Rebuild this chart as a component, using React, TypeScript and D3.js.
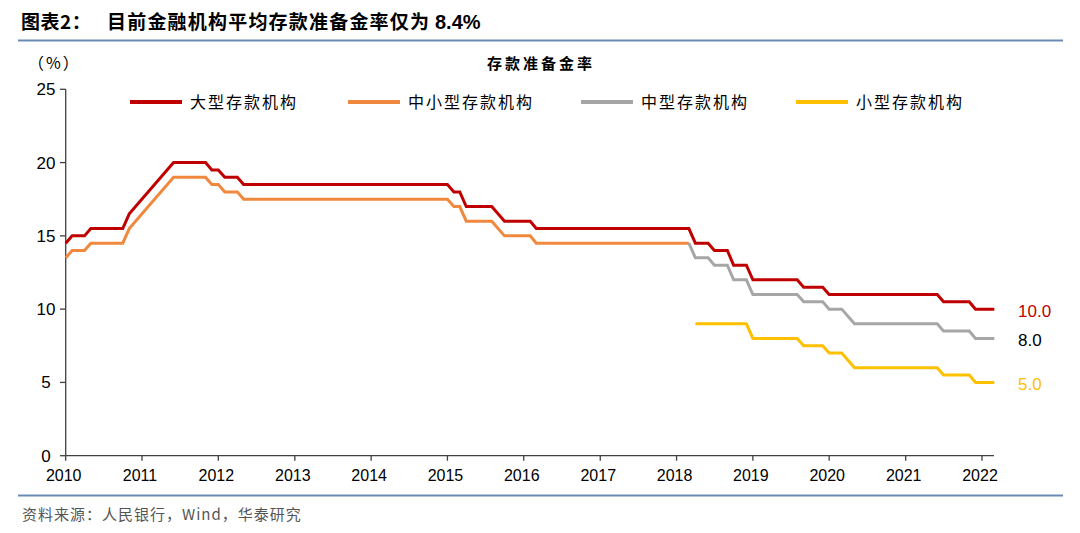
import React from "react";
import * as d3 from "d3";

// Data: vertices of each series (month, value %)
const largeInst: [string, number][] = [
  ["2010-01", 14.5], ["2010-02", 15], ["2010-04", 15], ["2010-05", 15.5], ["2010-10", 15.5],
  ["2010-11", 16.5], ["2011-06", 20], ["2011-11", 20], ["2011-12", 19.5], ["2012-01", 19.5],
  ["2012-02", 19], ["2012-04", 19], ["2012-05", 18.5], ["2015-01", 18.5], ["2015-02", 18],
  ["2015-03", 18], ["2015-04", 17], ["2015-08", 17], ["2015-10", 16], ["2016-02", 16],
  ["2016-03", 15.5], ["2018-03", 15.5], ["2018-04", 14.5], ["2018-06", 14.5], ["2018-07", 14],
  ["2018-09", 14], ["2018-10", 13], ["2018-12", 13], ["2019-01", 12], ["2019-08", 12],
  ["2019-09", 11.5], ["2019-12", 11.5], ["2020-01", 11], ["2021-06", 11], ["2021-07", 10.5],
  ["2021-11", 10.5], ["2021-12", 10], ["2022-03", 10],
];
const midSmallInst: [string, number][] = [
  ["2010-01", 13.5], ["2010-02", 14], ["2010-04", 14], ["2010-05", 14.5], ["2010-10", 14.5],
  ["2010-11", 15.5], ["2011-06", 19], ["2011-11", 19], ["2011-12", 18.5], ["2012-01", 18.5],
  ["2012-02", 18], ["2012-04", 18], ["2012-05", 17.5], ["2015-01", 17.5], ["2015-02", 17],
  ["2015-03", 17], ["2015-04", 16], ["2015-08", 16], ["2015-10", 15], ["2016-02", 15],
  ["2016-03", 14.5], ["2018-03", 14.5],
];
const midInst: [string, number][] = [
  ["2018-03", 14.5], ["2018-04", 13.5], ["2018-06", 13.5], ["2018-07", 13], ["2018-09", 13],
  ["2018-10", 12], ["2018-12", 12], ["2019-01", 11], ["2019-08", 11], ["2019-09", 10.5],
  ["2019-12", 10.5], ["2020-01", 10], ["2020-03", 10], ["2020-05", 9], ["2021-06", 9],
  ["2021-07", 8.5], ["2021-11", 8.5], ["2021-12", 8], ["2022-03", 8],
];
const smallInst: [string, number][] = [
  ["2018-04", 9], ["2018-12", 9], ["2019-01", 8], ["2019-08", 8], ["2019-09", 7.5],
  ["2019-12", 7.5], ["2020-01", 7], ["2020-03", 7], ["2020-05", 6], ["2021-06", 6],
  ["2021-07", 5.5], ["2021-11", 5.5], ["2021-12", 5], ["2022-03", 5],
];

const seriesNames = ["大型存款机构", "中小型存款机构", "中型存款机构", "小型存款机构"];
const seriesColors = ["#C00000", "#F0883E", "#A6A6A6", "#FFC000"];
const endLabels = ["10.0", "", "8.0", "5.0"];
const endLabelColors = ["#C00000", "", "#000000", "#FFC000"];
const yTicks = [0, 5, 10, 15, 20, 25];
const xTickYears = [2010, 2011, 2012, 2013, 2014, 2015, 2016, 2017, 2018, 2019, 2020, 2021, 2022];

const titleHead = "图表2：";
const titleBody = "目前金融机构平均存款准备金率仅为";
const titleNum = "8.4%";
const chartTitle = "存款准备金率";
const unitLabel = "（%）";
const sourceText = "资料来源：人民银行，Wind，华泰研究";

const parse = d3.timeParse("%Y-%m");

export default function App() {
  const W = 1080, H = 533;
  const x = d3.scaleTime()
    .domain([new Date(2010, 0, 1), new Date(2022, 0, 1)])
    .range([65.7, 982]);
  const y = d3.scaleLinear().domain([0, 25]).range([455.7, 89.3]);
  const line = d3.line<[string, number]>()
    .x((d) => x(parse(d[0]) as Date))
    .y((d) => y(d[1]));
  const all = [largeInst, midSmallInst, midInst, smallInst];
  const cjk = "'Noto Sans CJK SC', 'Noto Sans', sans-serif";
  const latin = "'Liberation Sans', Arial, sans-serif";
  const legendX = [130, 348, 581, 796];

  return (
    <svg width={W} height={H} style={{ position: "absolute", left: 0, top: 0, background: "#fff" }}>
      <rect x={0} y={0} width={W} height={H} fill="#fff" />
      {/* Title */}
      <text x={21} y={29} fontFamily={cjk} fontWeight="bold" fontSize={19} fill="#000" letterSpacing={0.5}>
        {titleHead}
      </text>
      <text x={107} y={29} fontFamily={cjk} fontWeight="bold" fontSize={19} fill="#000" letterSpacing={1.2}>
        {titleBody}
      </text>
      <text x={435} y={29} fontFamily={latin} fontWeight="bold" fontSize={20} fill="#000">
        {titleNum}
      </text>
      <line x1={18} x2={1063} y1={40.5} y2={40.5} stroke="#6A8BB3" strokeWidth={2} />
      <text x={28} y={69} fontFamily={cjk} fontSize={16} fill="#000" letterSpacing={2}>{unitLabel}</text>
      <text x={541} y={69} textAnchor="middle" fontFamily={cjk} fontWeight="bold" fontSize={15} fill="#000" letterSpacing={3}>
        {chartTitle}
      </text>

      {/* Y axis */}
      <line x1={65.7} x2={65.7} y1={y(25)} y2={y(0)} stroke="#404040" strokeWidth={1.3} />
      {yTicks.map((t) => (
        <g key={t}>
          <line x1={60} x2={65.7} y1={y(t)} y2={y(t)} stroke="#404040" strokeWidth={1.3} />
          <text x={46} y={y(t) + 6} textAnchor="middle" fontFamily={latin} fontSize={17} fill="#000">{t}</text>
        </g>
      ))}
      {/* X axis */}
      <line x1={65.7} x2={994} y1={y(0)} y2={y(0)} stroke="#404040" strokeWidth={1.3} />
      {xTickYears.map((yr) => (
        <g key={yr}>
          <line x1={x(new Date(yr, 0, 1))} x2={x(new Date(yr, 0, 1))} y1={y(0)} y2={y(0) + 5} stroke="#404040" strokeWidth={1.3} />
          <text x={x(new Date(yr, 0, 1)) - 2} y={481} textAnchor="middle" fontFamily={latin} fontSize={16} fill="#000">{yr}</text>
        </g>
      ))}

      {/* Lines */}
      {all.map((s, i) => (
        <path key={i} d={line(s) || ""} fill="none" stroke={seriesColors[i]} strokeWidth={3} strokeLinejoin="miter" />
      ))}

      {/* End labels */}
      {all.map((s, i) =>
        endLabels[i] ? (
          <text key={"e" + i} x={1018} y={y(s[s.length - 1][1]) + 8} fontFamily={latin} fontSize={17} fill={endLabelColors[i]}>
            {endLabels[i]}
          </text>
        ) : null
      )}

      {/* Legend */}
      {seriesNames.map((n, i) => (
        <g key={n}>
          <line x1={legendX[i]} x2={legendX[i] + 52} y1={102} y2={102} stroke={seriesColors[i]} strokeWidth={4} />
          <text x={legendX[i] + 60} y={108} fontFamily={cjk} fontSize={16} fill="#000" letterSpacing={2}>{n}</text>
        </g>
      ))}

      {/* Footer */}
      <line x1={18} x2={1063} y1={495.5} y2={495.5} stroke="#6A8BB3" strokeWidth={2} />
      <text x={22} y={520} fontFamily={cjk} fontSize={15} fill="#555" letterSpacing={1}>{sourceText}</text>
    </svg>
  );
}
